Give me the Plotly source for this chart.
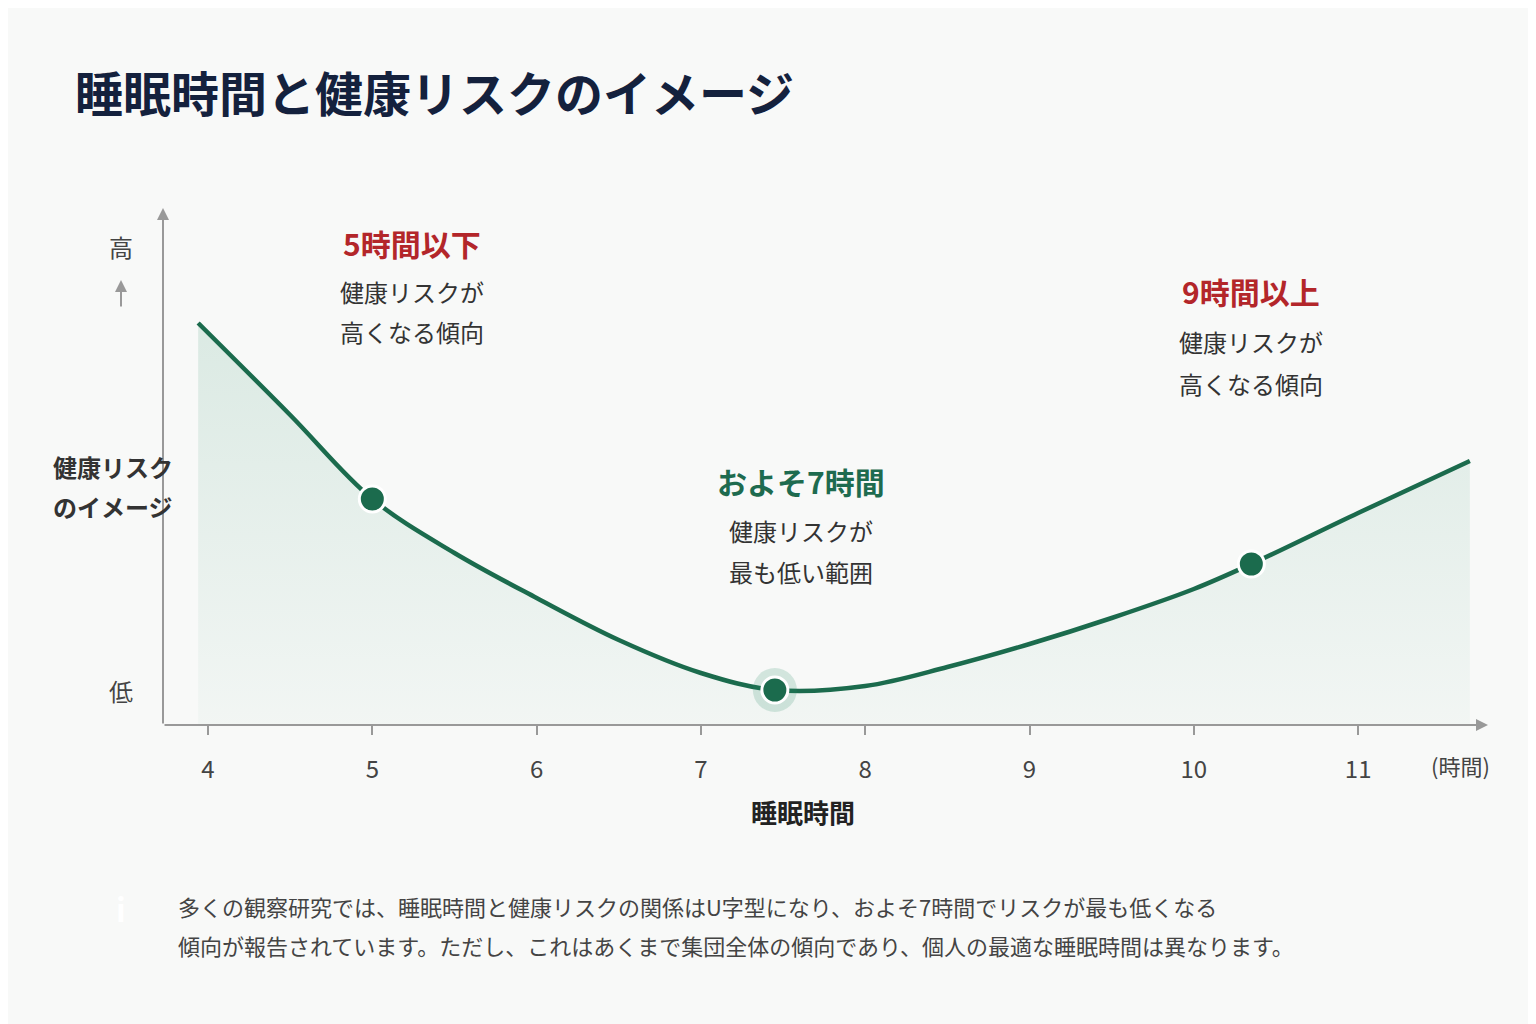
import plotly.graph_objects as go

W, H = 1536, 1024
FONT = "Noto Sans CJK JP"

# curve (hours, risk in arbitrary units)
hours = [3.94, 4.5, 5.0, 5.5, 6.0, 6.5, 7.0, 7.45, 8.0, 8.5, 9.0, 9.5, 10.0, 10.35, 11.0, 11.68]
risk = [402, 310, 226, 172, 127, 85, 52, 35, 39, 58, 81, 107, 136, 161, 212, 264]
tick_hours = [4, 5, 6, 7, 8, 9, 10, 11]
point_hours = [5.0, 7.45, 10.35]
point_risk = [226, 35, 161]


def px(x):
    return x / W


def py(y):
    return 1 - y / H


def rrect(x0, y0, x1, y1, r):
    rx, ry = r / W, r / H
    a, b, c, d = px(x0), py(y1), px(x1), py(y0)
    return (f"M{a+rx},{b} L{c-rx},{b} Q{c},{b} {c},{b+ry} L{c},{d-ry} Q{c},{d} {c-rx},{d} "
            f"L{a+rx},{d} Q{a},{d} {a},{d-ry} L{a},{b+ry} Q{a},{b} {a+rx},{b} Z")


fig = go.Figure()
fig.add_trace(go.Scatter(
    x=hours, y=risk, mode="lines", line=dict(color="#1b6b4d", width=4.5, shape="spline"),
    fill="tozeroy",
    fillgradient=dict(type="vertical", colorscale=[[0, "rgba(40,140,100,0.03)"], [1, "rgba(40,140,100,0.14)"]]),
    hoverinfo="skip"))
fig.add_trace(go.Scatter(x=[point_hours[1]], y=[point_risk[1]], mode="markers",
                         marker=dict(size=44, color="rgba(40,140,100,0.18)"), hoverinfo="skip"))
fig.add_trace(go.Scatter(x=point_hours, y=point_risk, mode="markers",
                         marker=dict(size=26, color="#1b6b4d", line=dict(color="white", width=3)), hoverinfo="skip"))

shapes = [
    dict(type="path", path=rrect(275, 193, 533, 358, 14), fillcolor="#fbeceb", line_width=0),
    dict(type="path", path=rrect(658, 427, 928, 600, 14), fillcolor="#e6f2ec", line_width=0),
    dict(type="path", path=rrect(1122, 241, 1365, 410, 14), fillcolor="#fbeceb", line_width=0),
    dict(type="path", path=rrect(60, 853, 1483, 978, 40), fillcolor="#eef2ef", line_width=0),
    dict(type="circle", x0=px(88), x1=px(138), y0=py(925), y1=py(875), fillcolor="#5aa886", line_width=0),
]
for x, y0, y1 in [(370, 358, 478), (766, 600, 665), (1245, 410, 540)]:
    shapes.append(dict(type="line", x0=px(x), x1=px(x), y0=py(y0), y1=py(y1),
                       line=dict(color="#999", width=2, dash="dash")))
for y0, y1 in [(410, 275), (545, 650)]:
    shapes.append(dict(type="line", x0=px(113), x1=px(113), y0=py(y0), y1=py(y1),
                       line=dict(color="#999", width=2)))
fig.update_layout(shapes=shapes)

ann = []


def txt(x, y, s, size, color="#333", bold=False, xanchor="center"):
    if bold:
        s = f"<b>{s}</b>"
    ann.append(dict(x=px(x), y=py(y), xref="paper", yref="paper", text=s, showarrow=False,
                    xanchor=xanchor, yanchor="middle", font=dict(size=size, color=color, family=FONT)))


def arrow(x0, y0, x1, y1):
    ann.append(dict(x=px(x1), y=py(y1), ax=x0 - x1, ay=y0 - y1, xref="paper", yref="paper",
                    axref="pixel", ayref="pixel", text="", showarrow=True, arrowhead=2,
                    arrowsize=1.2, arrowwidth=2, arrowcolor="#999"))


txt(65, 83, "睡眠時間と健康リスクのイメージ", 48, "#14213d", True, "left")
arrow(155, 717, 155, 200)
arrow(155, 717, 1480, 717)
arrow(113, 300, 113, 272)
txt(113, 238, "高", 24, "#444")
txt(113, 682, "低", 24, "#444")
txt(105, 458, "健康リスク", 24, "#333", True)
txt(105, 498, "のイメージ", 24, "#333", True)
txt(404, 235, "5時間以下", 30, "#b3262a", True)
txt(404, 283, "健康リスクが", 24)
txt(404, 323, "高くなる傾向", 24)
txt(793, 473, "およそ7時間", 30, "#1e6b4f", True)
txt(793, 522, "健康リスクが", 24)
txt(793, 563, "最も低い範囲", 24)
txt(1243, 283, "9時間以上", 30, "#b3262a", True)
txt(1243, 333, "健康リスクが", 24)
txt(1243, 375, "高くなる傾向", 24)
txt(1452, 757, "(時間)", 22, "#444")
txt(795, 803, "睡眠時間", 26, "#222", True)
txt(113, 900, "i", 32, "white", True)
txt(168, 898, "多くの観察研究では、睡眠時間と健康リスクの関係はU字型になり、およそ7時間でリスクが最も低くなる", 22, "#444", False, "left")
txt(168, 937, "傾向が報告されています。ただし、これはあくまで集団全体の傾向であり、個人の最適な睡眠時間は異なります。", 22, "#444", False, "left")

fig.update_layout(
    width=W, height=H, margin=dict(l=0, r=0, t=0, b=0),
    paper_bgcolor="#f8f9f8", plot_bgcolor="rgba(0,0,0,0)",
    showlegend=False, annotations=ann,
    xaxis=dict(domain=[px(155), px(1475)], range=[3.726, 11.76], tickvals=tick_hours,
               ticks="outside", ticklen=9, tickcolor="#999", tickwidth=2,
               showgrid=False, zeroline=False, showline=False,
               tickfont=dict(size=24, color="#444", family=FONT), ticklabelstandoff=14),
    yaxis=dict(domain=[py(717), py(205)], range=[0, 512], visible=False),
)
fig.write_html("out.html")
